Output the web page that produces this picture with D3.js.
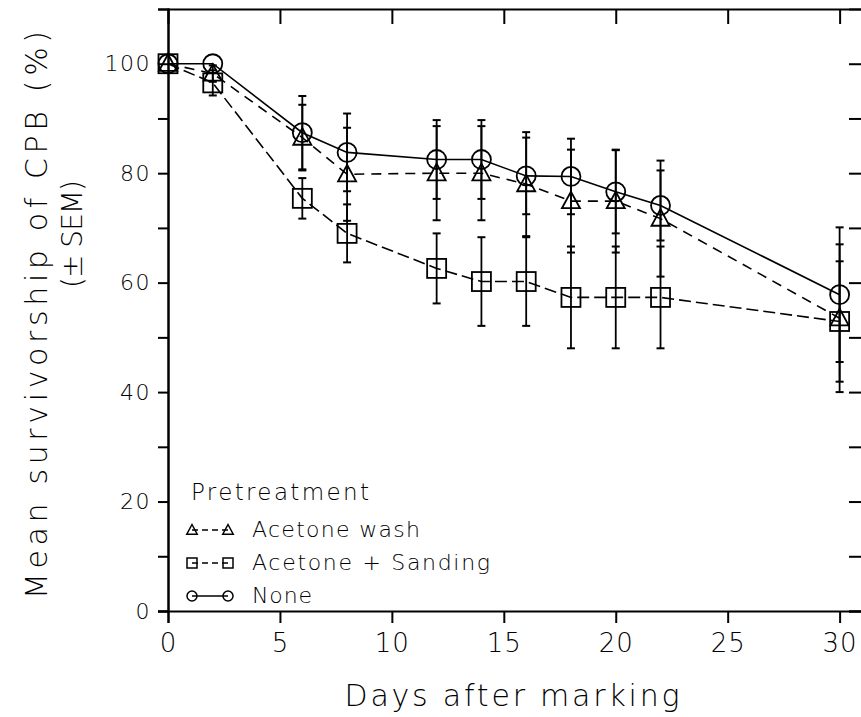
<!DOCTYPE html>
<html>
<head>
<meta charset="utf-8">
<script src="https://cdn.jsdelivr.net/npm/d3@7"></script>
<style>
  body { margin: 0; background: #fff; }
  text { font-family: "DejaVu Sans", "Liberation Sans", sans-serif; font-weight: 200; fill: #000; }
</style>
</head>
<body>
<div class="plot-1"></div>
<script>
/*dados*/
var days = [0, 2, 6, 8, 12, 14, 16, 18, 20, 22, 30];

var noneMean = [100, 100, 87.4, 83.8, 82.5, 82.5, 79.5, 79.4, 76.6, 74.1, 57.8];
var noneSem  = [0, 0, 6.7, 7.1, 7.2, 7.2, 7.0, 6.9, 7.6, 6.4, 12.3];

var washMean = [100, 98.2, 86.5, 79.8, 80, 80, 78, 74.9, 74.9, 71.7, 53.5];
var washSem  = [0, 1.5, 6.0, 8.5, 8.6, 8.6, 9.5, 9.4, 9.4, 10.6, 13.5];

var sandMean = [100, 96.5, 75.4, 69, 62.6, 60.2, 60.2, 57.3, 57.3, 57.3, 52.9];
var sandSem  = [0, 2.3, 3.7, 5.3, 6.4, 8.1, 8.1, 9.3, 9.3, 9.3, 11];

var xTicks = [0, 5, 10, 15, 20, 25, 30];
var yTicks = [0, 20, 40, 60, 80, 100];
var yMinor = [10, 30, 50, 70, 90];

var legendTitle = 'Pretreatment';
var legendLabels = ['Acetone wash', 'Acetone + Sanding', 'None'];

//dimensoes
var svgDims = {width: 861, height: 717};
var plot = {left: 168, right: 862, top: 9, bottom: 611};

var svg = d3.select('.plot-1')
            .append('svg')
            .attr('width', svgDims.width)
            .attr('height', svgDims.height);

//escalas
var xScale = d3.scaleLinear().domain([0, 31]).range([plot.left, plot.right]);
var yScale = d3.scaleLinear().domain([0, 110]).range([plot.bottom, plot.top]);

//eixos
var xAxis = d3.axisBottom(xScale).tickValues(xTicks).tickSize(12).tickPadding(6);
var yAxis = d3.axisLeft(yScale).tickValues(yTicks).tickSize(10).tickPadding(7);

var gx = svg.append('g')
    .attr('transform', 'translate(0,' + plot.bottom + ')')
    .call(xAxis);
gx.selectAll('text').style('font-size', '26px').style('letter-spacing', '1px').attr('dy', '0.88em');

var gy = svg.append('g')
    .attr('transform', 'translate(' + plot.left + ',0)')
    .call(yAxis);
gy.selectAll('text').style('font-size', '22px').style('letter-spacing', '1.5px');

//ticks menores do eixo y
svg.append('g')
    .attr('transform', 'translate(' + plot.left + ',0)')
    .call(d3.axisLeft(yScale).tickValues(yMinor).tickSize(10).tickFormat(''));

//eixo superior e direito (moldura)
svg.append('g')
    .attr('transform', 'translate(0,' + plot.top + ')')
    .call(d3.axisBottom(xScale).tickValues(xTicks.slice(1)).tickSize(15).tickFormat(''));
svg.append('g')
    .attr('transform', 'translate(' + plot.right + ',0)')
    .call(d3.axisLeft(yScale).tickValues(yTicks.concat(yMinor)).tickSize(13).tickFormat(''));

svg.selectAll('.domain').attr('stroke', '#000').attr('stroke-width', 2);
svg.selectAll('.tick line').attr('stroke', '#000').attr('stroke-width', 2);
svg.selectAll('.tick text').attr('fill', '#000')
    .style('font-family', '"DejaVu Sans", sans-serif').style('font-weight', 200);

//titulos dos eixos
svg.append('text')
    .attr('x', 512).attr('y', 706)
    .attr('text-anchor', 'middle')
    .attr('textLength', 335)
    .style('font-size', '30px')
    .text('Days after marking');

svg.append('text')
    .attr('transform', 'translate(47,315) rotate(-90)')
    .attr('text-anchor', 'middle')
    .attr('textLength', 568)
    .style('font-size', '30px')
    .text('Mean survivorship of CPB (%)');

svg.append('text')
    .attr('transform', 'translate(82,234) rotate(-90)')
    .attr('text-anchor', 'middle')
    .attr('textLength', 108)
    .style('font-size', '28px')
    .text('(\u00B1 SEM)');

//marcadores
function trianglePath(s){
    return 'M0,' + (-s) + 'L' + (s * 0.95) + ',' + (s * 0.75) + 'L' + (-s * 0.95) + ',' + (s * 0.75) + 'Z';
}

function drawMarker(g, type, size){
    if( type === 'circle' ){
        g.append('circle').attr('r', size);
    }
    else if( type === 'square' ){
        g.append('rect').attr('x', -size).attr('y', -size)
            .attr('width', size * 2).attr('height', size * 2);
    }
    else{
        g.append('path').attr('d', trianglePath(size));
    }
}

var series = [
    {mean: washMean, sem: washSem, marker: 'triangle', dash: '10,7'},
    {mean: sandMean, sem: sandSem, marker: 'square', dash: '12,5'},
    {mean: noneMean, sem: noneSem, marker: 'circle', dash: null}
];

var line = d3.line()
    .x(function(d){ return xScale(d.x); })
    .y(function(d){ return yScale(d.y); });

series.forEach(function(s){
    var pts = days.map(function(d, i){ return {x: d, y: s.mean[i], e: s.sem[i]}; });
    var g = svg.append('g').attr('stroke', '#000').attr('fill', 'none');

    //barras de erro
    pts.forEach(function(p){
        if( p.e <= 0 ){ return; }
        var cx = xScale(p.x);
        var y1 = yScale(p.y + p.e), y2 = yScale(p.y - p.e);
        g.append('line').attr('x1', cx).attr('x2', cx).attr('y1', y1).attr('y2', y2)
            .attr('stroke-width', 1.8);
        [y1, y2].forEach(function(yy){
            g.append('line').attr('x1', cx - 4).attr('x2', cx + 4).attr('y1', yy).attr('y2', yy)
                .attr('stroke-width', 2);
        });
    });

    g.append('path')
        .datum(pts)
        .attr('d', line)
        .attr('stroke-width', 1.6)
        .attr('stroke-dasharray', s.dash);

    pts.forEach(function(p){
        var m = g.append('g')
            .attr('transform', 'translate(' + xScale(p.x) + ',' + yScale(p.y) + ')')
            .attr('stroke-width', 1.8);
        drawMarker(m, s.marker, 9.5);
    });
});

//legenda
svg.append('text')
    .attr('x', 191).attr('y', 500)
    .attr('textLength', 178)
    .style('font-size', '23px')
    .text(legendTitle);

var legendY = [530, 563, 596];
var legendWidths = [168, 238, 60];
legendLabels.forEach(function(label, i){
    var s = series[i];
    var g = svg.append('g').attr('stroke', '#000').attr('fill', 'none');
    g.append('line')
        .attr('x1', 192).attr('x2', 228).attr('y1', legendY[i]).attr('y2', legendY[i])
        .attr('stroke-width', 1.5)
        .attr('stroke-dasharray', s.dash ? '6,4' : null);
    [192, 228].forEach(function(lx){
        var m = g.append('g').attr('transform', 'translate(' + lx + ',' + legendY[i] + ')')
            .attr('stroke-width', 1.5);
        drawMarker(m, s.marker, s.marker === 'triangle' ? 5.5 : 5);
    });
    svg.append('text')
        .attr('x', 252).attr('y', legendY[i] + 7)
        .attr('textLength', legendWidths[i])
        .style('font-size', '22px')
        .text(label);
});
</script>
</body>
</html>
